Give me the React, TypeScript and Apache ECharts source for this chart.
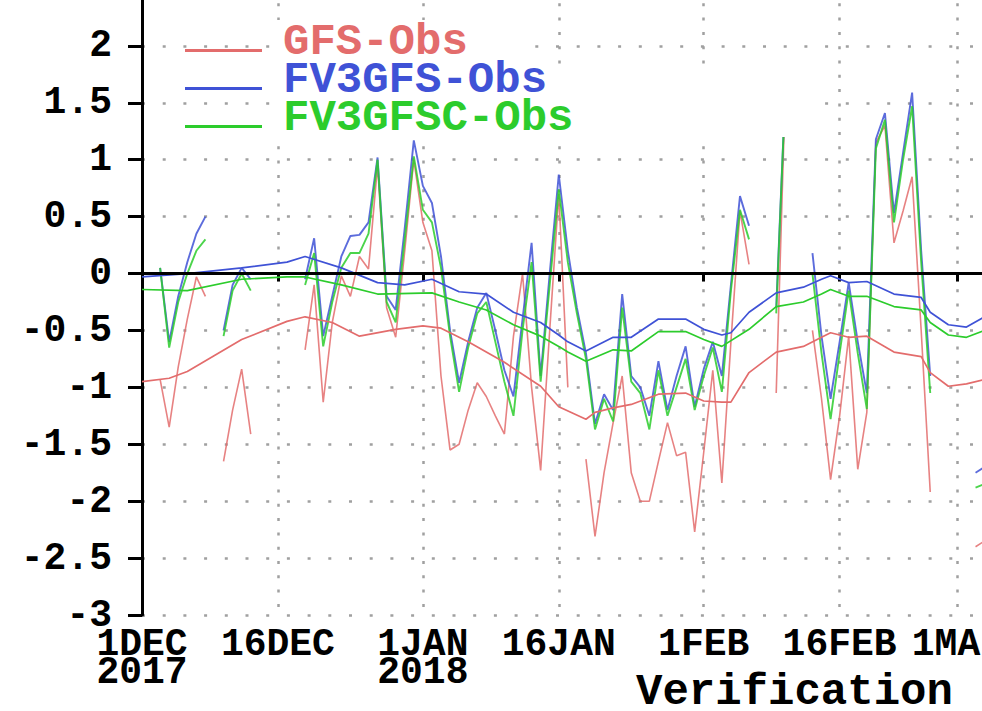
import React, { useEffect, useRef } from "react";
import * as echarts from "echarts";

// Categories: daily verification dates, 1 Dec 2017 .. 4 Mar 2018
const startDate = Date.UTC(2017, 11, 1);
const dayCount = 94;
const categories: string[] = [];
for (let i = 0; i < dayCount; i++) {
  categories.push(new Date(startDate + i * 86400000).toISOString().slice(0, 10));
}

const tickIndex = [0, 15, 31, 46, 62, 77, 90];
const tickLabels = ["1DEC\n2017", "16DEC", "1JAN\n2018", "16JAN", "1FEB", "16FEB", "1MAR"];

const legendNames = ["GFS-Obs", "FV3GFS-Obs", "FV3GFSC-Obs"];
const colors = ["#e36c6c", "#3f52d6", "#2ccc2c"];

const N = null;
// daily differences (index = day since 1 Dec 2017)
const gfsDaily: (number | null)[] = [
  N, N, -0.93, -1.35, -0.82, -0.4, -0.03, -0.2, N, -1.65,
  -1.2, -0.84, -1.41, N, N, N, N, N, -0.67, -0.1,
  -1.13, -0.43, -0.02, -0.2, 0.15, 0.04, 0.95, -0.3, -0.56, 0.2,
  1.0, 0.45, 0.2, -0.9, -1.55, -1.5, -1.2, -0.96, -1.08, -1.25,
  -1.41, -0.55, 0.0, -1.0, -1.73, -0.5, 0.7, -1.0, N, -1.63,
  -2.31, -1.75, -1.31, -0.9, -1.75, -2.0, -2.0, -1.65, -1.31, -1.6,
  -1.57, -2.27, -1.57, -0.85, -1.84, -0.6, 0.55, 0.08, N, N,
  -1.05, 1.6, N, N, -0.5, -1.1, -1.81, -1.25, -0.55, -1.72,
  -1.22, 1.15, 1.3, 0.27, 0.55, 0.85, -0.5, -1.92, N, N,
  N, N, -2.4, -2.35,
];
const fv3Daily: (number | null)[] = [
  N, N, 0.05, -0.6, -0.2, 0.1, 0.35, 0.5, N, -0.5,
  -0.1, 0.05, -0.05, N, N, N, N, N, -0.05, 0.31,
  -0.55, -0.2, 0.15, 0.33, 0.34, 0.45, 1.02, -0.2, -0.32, 0.4,
  1.17, 0.77, 0.62, 0.15, -0.5, -0.96, -0.6, -0.3, -0.17, -0.5,
  -0.85, -1.08, -0.4, 0.27, -0.9, 0.0, 0.87, 0.2, -0.3, -0.7,
  -1.32, -1.06, -1.2, -0.18, -0.9, -1.0, -1.25, -0.77, -1.2, -0.9,
  -0.64, -1.17, -0.84, -0.6, -0.9, -0.1, 0.68, 0.42, N, N,
  -0.3, 1.6, N, N, 0.18, -0.55, -1.1, -0.6, -0.08, -0.6,
  -1.05, 1.18, 1.41, 0.53, 1.06, 1.59, 0.2, -0.9, N, N,
  N, N, -1.75, -1.7,
];
const fv3cDaily: (number | null)[] = [
  N, N, 0.05, -0.65, -0.25, 0.0, 0.2, 0.3, N, -0.55,
  -0.15, 0.0, -0.15, N, N, N, N, N, -0.1, 0.18,
  -0.64, -0.25, 0.05, 0.18, 0.18, 0.35, 1.0, -0.25, -0.43, 0.3,
  1.03, 0.56, 0.45, 0.05, -0.55, -1.04, -0.65, -0.35, -0.25, -0.6,
  -0.95, -1.25, -0.5, 0.1, -0.95, -0.1, 0.74, 0.1, -0.35, -0.75,
  -1.37, -1.1, -1.3, -0.3, -0.95, -1.05, -1.37, -0.85, -1.25, -1.0,
  -0.75, -1.2, -0.9, -0.65, -1.04, -0.15, 0.56, 0.3, N, N,
  -0.35, 1.6, N, N, 0.0, -0.7, -1.28, -0.7, -0.15, -0.7,
  -1.19, 1.1, 1.35, 0.45, 1.0, 1.47, 0.1, -1.05, N, N,
  N, N, -1.88, -1.85,
];

// running means, read at selected days (gaps joined by the library)
const gfsMeanDays = [0, 3, 5, 8, 11, 16, 18, 21, 24, 28, 31, 33, 36, 40, 44, 46, 49, 50, 52, 54, 57, 60, 62, 64, 65, 67, 70, 73, 75, 76, 78, 80, 83, 86, 87, 89, 91, 93];
const gfsMeanVals = [-0.95, -0.92, -0.86, -0.72, -0.58, -0.42, -0.38, -0.43, -0.55, -0.49, -0.46, -0.48, -0.6, -0.78, -0.99, -1.17, -1.28, -1.22, -1.18, -1.15, -1.06, -1.05, -1.12, -1.13, -1.13, -0.87, -0.69, -0.64, -0.56, -0.52, -0.56, -0.55, -0.69, -0.73, -0.87, -0.99, -0.97, -0.93];
const fv3MeanDays = [0, 5, 11, 16, 18, 22, 26, 29, 32, 35, 38, 41, 44, 46, 47, 49, 52, 54, 57, 60, 62, 64, 65, 67, 70, 73, 75, 76, 78, 80, 83, 86, 87, 89, 91, 93];
const fv3MeanVals = [-0.03, 0.0, 0.05, 0.1, 0.15, 0.05, -0.08, -0.1, -0.05, -0.16, -0.18, -0.34, -0.43, -0.54, -0.6, -0.68, -0.56, -0.56, -0.4, -0.4, -0.49, -0.54, -0.52, -0.34, -0.17, -0.12, -0.05, -0.02, -0.08, -0.07, -0.18, -0.21, -0.34, -0.45, -0.47, -0.38];
const fv3cMeanDays = [0, 5, 11, 16, 18, 22, 26, 32, 35, 38, 41, 44, 46, 47, 49, 52, 54, 57, 60, 62, 64, 67, 70, 73, 75, 76, 78, 80, 83, 86, 87, 89, 91, 93];
const fv3cMeanVals = [-0.14, -0.15, -0.05, -0.03, -0.03, -0.1, -0.18, -0.17, -0.25, -0.32, -0.45, -0.55, -0.64, -0.69, -0.77, -0.67, -0.68, -0.51, -0.51, -0.58, -0.64, -0.49, -0.29, -0.25, -0.18, -0.14, -0.2, -0.2, -0.29, -0.32, -0.43, -0.54, -0.56, -0.5];

function sparse(days: number[], vals: number[]): (number | null)[] {
  const arr: (number | null)[] = new Array(dayCount).fill(null);
  days.forEach((d, i) => { arr[d] = vals[i]; });
  return arr;
}

const FONT = "Liberation Mono, monospace";

export default function App() {
  const ref = useRef<HTMLDivElement>(null);
  useEffect(() => {
    if (!ref.current) return;
    const chart = echarts.init(ref.current, undefined, { renderer: "svg" });
    const isTick = (i: number) => tickIndex.indexOf(i) >= 0;
    const daily = [gfsDaily, fv3Daily, fv3cDaily];
    const means = [sparse(gfsMeanDays, gfsMeanVals), sparse(fv3MeanDays, fv3MeanVals), sparse(fv3cMeanDays, fv3cMeanVals)];
    const series: any[] = [];
    daily.forEach((d, k) => {
      series.push({
        name: legendNames[k],
        type: "line",
        data: d,
        showSymbol: false,
        connectNulls: false,
        color: colors[k],
        lineStyle: { width: k === 0 ? 1.6 : 1.9, color: colors[k], opacity: 0.85 },
        z: 2,
      });
    });
    means.forEach((d, k) => {
      series.push({
        name: legendNames[k] + " mean",
        type: "line",
        data: d,
        showSymbol: false,
        connectNulls: true,
        color: colors[k],
        lineStyle: { width: 1.7, color: colors[k] },
        z: 3,
        markLine: k === 2 ? {
          silent: true,
          symbol: ["none", "none"],
          label: { show: false },
          lineStyle: { color: "#000", width: 3, type: "solid" },
          data: [{ yAxis: 0 }],
        } : undefined,
      });
    });
    chart.setOption({
      animation: false,
      backgroundColor: "#fff",
      title: {
        text: "Verification",
        left: 636,
        top: 670,
        padding: 0,
        textStyle: { fontFamily: FONT, fontWeight: "bold", fontSize: 44, color: "#000" },
      },
      legend: {
        data: legendNames.map((n, k) => ({ name: n, itemStyle: { color: colors[k] }, textStyle: { color: colors[k] } })),
        orient: "vertical",
        left: 185,
        top: 20,
        padding: 0,
        itemGap: -6,
        itemWidth: 77,
        itemHeight: 24,
        icon: "path://M0,0 M0,19 L77,19 L77,22 L0,22 Z M0,24",
        textStyle: { fontFamily: FONT, fontWeight: "bold", fontSize: 44, lineHeight: 38, padding: [0, 0, 0, 16] },
        z: 20,
      },
      graphic: [
        { type: "rect", z: 10, silent: true, shape: { x: 272, y: 20, width: 252, height: 46 }, style: { fill: "#fff" } },
        { type: "rect", z: 10, silent: true, shape: { x: 272, y: 66, width: 545, height: 71 }, style: { fill: "#fff" } },
      ],
      grid: { left: 142, right: -2.6, top: -11, bottom: 96, outerBoundsMode: "none", containLabel: false },
      xAxis: {
        type: "category",
        data: categories,
        boundaryGap: false,
        axisLine: { lineStyle: { color: "#000", width: 3 } },
        axisTick: { show: true, interval: (i: number) => isTick(i), length: 8, lineStyle: { color: "#000", width: 3 } },
        axisLabel: {
          interval: (i: number) => isTick(i),
          formatter: (_v: string, i: number) => { const k = tickIndex.indexOf(i); return k >= 0 ? tickLabels[k] : ""; },
          fontFamily: FONT, fontWeight: "bold", fontSize: 38, lineHeight: 28, color: "#000", margin: 15,
        },
        splitLine: { show: true, interval: (i: number) => isTick(i), lineStyle: { color: "#a0a0a0", width: 2.5, type: [3, 11.3] } },
      },
      yAxis: {
        type: "value",
        min: -3,
        max: 2.5,
        interval: 0.5,
        axisLine: { show: true, lineStyle: { color: "#000", width: 3 } },
        axisTick: { show: true, length: 14, lineStyle: { color: "#000", width: 3 } },
        axisLabel: { fontFamily: FONT, fontWeight: "bold", fontSize: 38, color: "#000", margin: 30 },
        splitLine: { show: true, lineStyle: { color: "#a0a0a0", width: 2.5, type: [3, 17.7] } },
      },
      series,
    });
    return () => chart.dispose();
  }, []);
  return <div ref={ref} style={{ position: "absolute", left: 0, top: 0, width: 982, height: 711 }} />;
}
